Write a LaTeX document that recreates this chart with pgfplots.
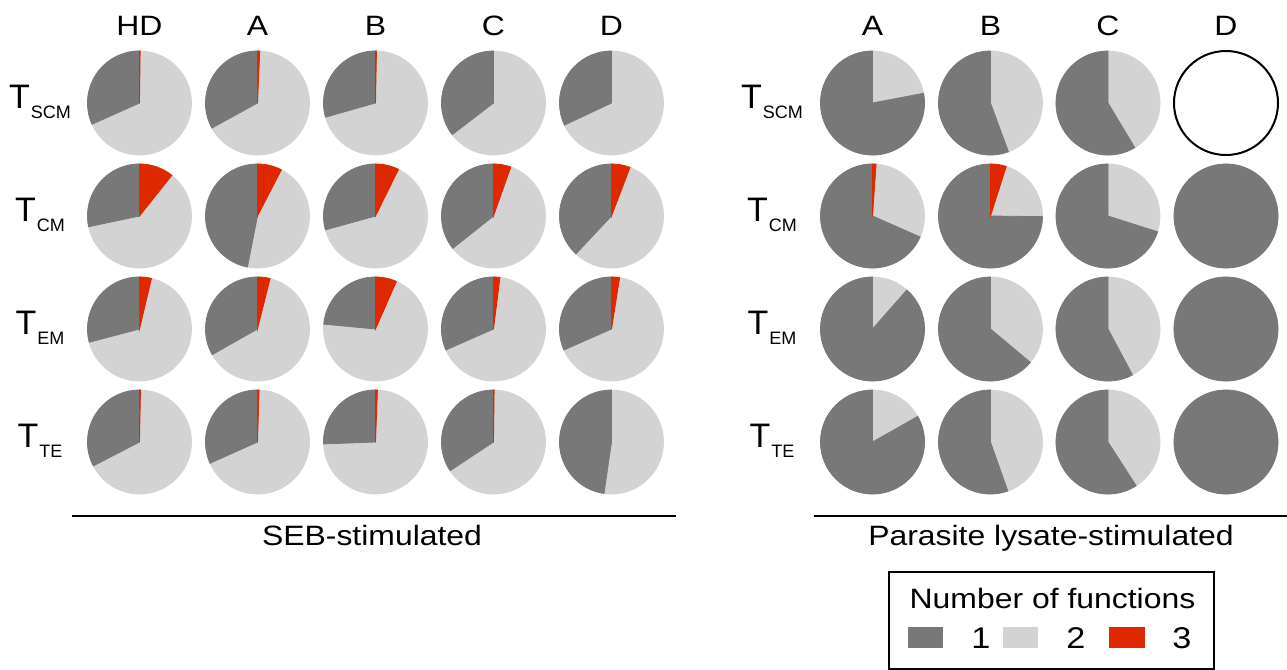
\documentclass[border=0pt]{standalone}
\usepackage{pgfplots}
\pgfplotsset{compat=1.18}
\usepackage{pgfplotstable}
\usepackage{fontspec}
\setmainfont[FakeStretch=1.14]{Liberation Sans}
\newfontfamily\plainsans{Liberation Sans}
\definecolor{darkg}{RGB}{120,120,120}
\definecolor{lightg}{RGB}{211,211,211}
\definecolor{redc}{RGB}{222,41,0}

% pies: cx cy (pixel positions), f1 f2 f3 = share of cells with 1, 2, 3 functions
\pgfplotstableread{
cx cy f1 f2 f3
139.5 103 0.317 0.681 0.002
257.5 103 0.330 0.663 0.007
375.5 103 0.294 0.703 0.003
493.5 103 0.354 0.646 0.000
611.5 103 0.320 0.680 0.000
139.5 216 0.283 0.610 0.107
257.5 216 0.469 0.455 0.076
375.5 216 0.293 0.634 0.073
493.5 216 0.357 0.589 0.054
611.5 216 0.380 0.562 0.058
139.5 329 0.291 0.672 0.037
257.5 329 0.332 0.629 0.039
375.5 329 0.235 0.699 0.066
493.5 329 0.316 0.664 0.020
611.5 329 0.316 0.659 0.025
139.5 442 0.326 0.671 0.003
257.5 442 0.317 0.678 0.005
375.5 442 0.256 0.738 0.006
493.5 442 0.343 0.655 0.002
611.5 442 0.477 0.523 0.000
}\sebdata

\pgfplotstableread{
cx cy f1 f2 f3
872.5 103 0.780 0.220 0.000
990.5 103 0.556 0.444 0.000
1108 103 0.586 0.414 0.000
872.5 216 0.684 0.305 0.011
990.5 216 0.748 0.203 0.049
1108 216 0.701 0.299 0.000
1226 216 1.000 0.000 0.000
872.5 329 0.885 0.115 0.000
990.5 329 0.639 0.361 0.000
1108 329 0.578 0.422 0.000
1226 329 1.000 0.000 0.000
872.5 442 0.832 0.168 0.000
990.5 442 0.554 0.446 0.000
1108 442 0.591 0.409 0.000
1226 442 0.998 0.002 0.000
}\pldata

\pgfdeclareplotmark{pie}{%
  \fill[lightg] (0pt,0pt) circle[radius=26pt];
  \ifdim\pfa pt>0pt
    \fill[darkg] (0pt,0pt) -- (90:26pt) arc[start angle=90,delta angle={360*\pfa},radius=26pt] -- cycle;
  \fi
  \ifdim\pfc pt>0pt
    \fill[redc] (0pt,0pt) -- (90:26pt) arc[start angle=90,delta angle={-360*\pfc},radius=26pt] -- cycle;
  \fi
}

\newcommand{\rowlab}[1]{\plainsans\fontsize{17}{20}\selectfont T\hspace{0.5pt}\raisebox{-5pt}{\fontsize{9}{11}\selectfont #1}}

\begin{document}
\begin{tikzpicture}
\begin{axis}[x=0.5pt, y=0.5pt, xmin=0, xmax=1287, ymin=0, ymax=670,
  y dir=reverse, hide axis, clip=false]
\addplot[only marks, mark=pie,
  visualization depends on={\thisrow{f1}\as\pfa},
  visualization depends on={\thisrow{f3}\as\pfc}] table[x=cx,y=cy]{\sebdata};
\addplot[only marks, mark=pie,
  visualization depends on={\thisrow{f1}\as\pfa},
  visualization depends on={\thisrow{f3}\as\pfc}] table[x=cx,y=cy]{\pldata};
\addplot[only marks, mark=*, mark size=26pt,
  mark options={fill=white, draw=black, line width=1pt}] coordinates {(1226,103)};

% column headers
\foreach \x/\t in {139.5/HD,257.5/A,375.5/B,493.5/C,611.5/D,872.5/A,990.5/B,1108/C,1226/D}{
  \edef\tmp{\noexpand\node[anchor=base, font=\noexpand\fontsize{14}{16}\noexpand\selectfont] at (axis cs:\x,35) {\t};}\tmp
}
% row labels
\node[anchor=base] at (axis cs:40,108) {\rowlab{SCM}};
\node[anchor=base] at (axis cs:40,221) {\rowlab{CM}};
\node[anchor=base] at (axis cs:40,334) {\rowlab{EM}};
\node[anchor=base] at (axis cs:40,447) {\rowlab{TE}};
\node[anchor=base] at (axis cs:772,108) {\rowlab{SCM}};
\node[anchor=base] at (axis cs:772,221) {\rowlab{CM}};
\node[anchor=base] at (axis cs:772,334) {\rowlab{EM}};
\node[anchor=base] at (axis cs:772,447) {\rowlab{TE}};

% group lines and labels
\draw[line width=1pt] (axis cs:71.5,516) -- (axis cs:676,516);
\draw[line width=1pt] (axis cs:813.5,516) -- (axis cs:1287,516);
\node[anchor=base, font=\fontsize{14}{16}\selectfont] at (axis cs:372,545) {SEB-stimulated};
\node[anchor=base, font=\fontsize{14}{16}\selectfont] at (axis cs:1051,545) {Parasite lysate-stimulated};

% legend
\draw[line width=0.7pt] (axis cs:889,572) rectangle (axis cs:1214,669);
\node[anchor=base, font=\fontsize{14}{16}\selectfont] at (axis cs:1052.5,608) {Number of functions};
\fill[darkg] (axis cs:908,627) rectangle (axis cs:943,648);
\fill[lightg] (axis cs:1003,627) rectangle (axis cs:1038,648);
\fill[redc] (axis cs:1109,627) rectangle (axis cs:1145,648);
\node[anchor=base, font=\fontsize{15}{17}\selectfont] at (axis cs:981,648) {1};
\node[anchor=base, font=\fontsize{15}{17}\selectfont] at (axis cs:1076,648) {2};
\node[anchor=base, font=\fontsize{15}{17}\selectfont] at (axis cs:1182,648) {3};
\end{axis}
\pgfresetboundingbox
\path (current axis.south west) rectangle (current axis.north east);
\end{tikzpicture}
\end{document}
